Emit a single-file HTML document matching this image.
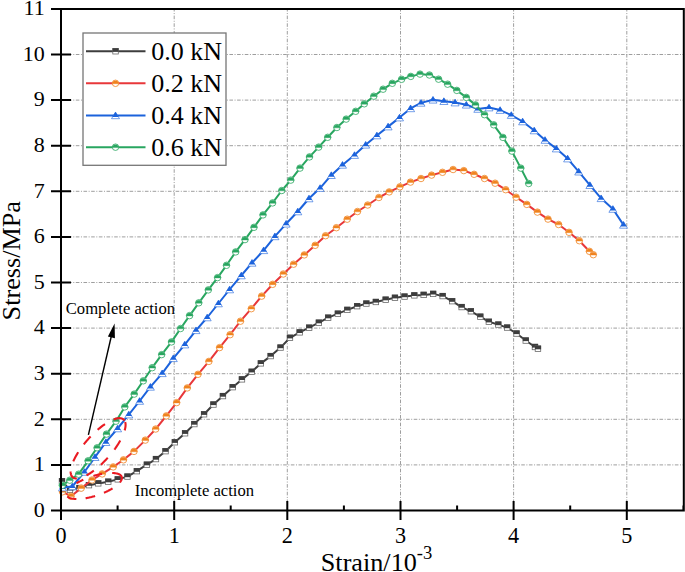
<!DOCTYPE html>
<html><head><meta charset="utf-8"><style>
html,body{margin:0;padding:0;background:#fff;}
body{width:685px;height:572px;overflow:hidden;}
svg{display:block;font-family:"Liberation Serif",serif;fill:#000;}
svg text{fill:#000;}
</style></head><body><svg width="685" height="572" viewBox="0 0 685 572"><rect width="685" height="572" fill="#fff"/><path d="M61.0,464.9 H683.8 M61.0,419.3 H683.8 M61.0,373.7 H683.8 M61.0,328.1 H683.8 M61.0,282.5 H683.8 M61.0,236.9 H683.8 M61.0,191.3 H683.8 M61.0,145.7 H683.8 M61.0,100.1 H683.8 M61.0,54.5 H683.8" stroke="#9e9e9e" stroke-width="1" stroke-dasharray="3.6 1.55 1 1.53" stroke-dashoffset="0.56" fill="none"/><path d="M174.2,8.9 V510.5 M287.3,8.9 V510.5 M400.5,8.9 V510.5 M513.6,8.9 V510.5 M626.8,8.9 V510.5" stroke="#9e9e9e" stroke-width="1" stroke-dasharray="3.6 1.55 1 1.53" stroke-dashoffset="0.98" fill="none"/><path d="M62.0,481.2 L70.0,489.9 L79.4,488.1 L88.9,485.2 L98.3,483.4 L108.2,481.7 L117.7,479.4 L127.4,476.6 L136.8,471.2 L146.8,464.7 L156.0,459.1 L165.5,451.2 L174.8,442.3 L185.1,433.3 L194.3,424.1 L204.1,414.3 L213.4,404.5 L222.9,396.1 L232.7,387.2 L241.9,379.4 L251.7,371.8 L260.9,363.4 L270.7,356.1 L280.5,347.6 L290.0,337.8 L299.6,332.4 L309.1,327.7 L318.9,322.7 L328.2,317.7 L337.9,313.7 L347.3,309.9 L357.1,306.2 L366.4,303.6 L375.8,302.0 L385.6,299.7 L395.0,297.8 L404.5,296.6 L414.3,295.4 L423.6,294.9 L433.2,293.9 L442.7,296.1 L452.2,301.2 L461.6,307.1 L470.9,311.3 L480.3,316.7 L488.9,321.8 L498.3,324.6 L507.1,327.6 L516.5,333.5 L525.8,340.5 L535.0,347.0 L538.0,348.7" fill="none" stroke="#3d3d3d" stroke-width="2" stroke-linejoin="round" stroke-linecap="round"/><rect x="59.2" y="478.4" width="5.5" height="5.5" fill="#fff" stroke="#6a6a6a" stroke-width="0.8"/><rect x="59.0" y="478.1" width="6.1" height="3.7" fill="#3d3d3d"/><rect x="67.2" y="487.1" width="5.5" height="5.5" fill="#fff" stroke="#6a6a6a" stroke-width="0.8"/><rect x="67.0" y="486.8" width="6.1" height="3.7" fill="#3d3d3d"/><rect x="76.7" y="485.3" width="5.5" height="5.5" fill="#fff" stroke="#6a6a6a" stroke-width="0.8"/><rect x="76.4" y="485.0" width="6.1" height="3.7" fill="#3d3d3d"/><rect x="86.2" y="482.4" width="5.5" height="5.5" fill="#fff" stroke="#6a6a6a" stroke-width="0.8"/><rect x="85.9" y="482.1" width="6.1" height="3.7" fill="#3d3d3d"/><rect x="95.5" y="480.6" width="5.5" height="5.5" fill="#fff" stroke="#6a6a6a" stroke-width="0.8"/><rect x="95.2" y="480.3" width="6.1" height="3.7" fill="#3d3d3d"/><rect x="105.5" y="478.9" width="5.5" height="5.5" fill="#fff" stroke="#6a6a6a" stroke-width="0.8"/><rect x="105.2" y="478.6" width="6.1" height="3.7" fill="#3d3d3d"/><rect x="115.0" y="476.6" width="5.5" height="5.5" fill="#fff" stroke="#6a6a6a" stroke-width="0.8"/><rect x="114.7" y="476.3" width="6.1" height="3.7" fill="#3d3d3d"/><rect x="124.7" y="473.8" width="5.5" height="5.5" fill="#fff" stroke="#6a6a6a" stroke-width="0.8"/><rect x="124.4" y="473.5" width="6.1" height="3.7" fill="#3d3d3d"/><rect x="134.1" y="468.4" width="5.5" height="5.5" fill="#fff" stroke="#6a6a6a" stroke-width="0.8"/><rect x="133.8" y="468.1" width="6.1" height="3.7" fill="#3d3d3d"/><rect x="144.1" y="461.9" width="5.5" height="5.5" fill="#fff" stroke="#6a6a6a" stroke-width="0.8"/><rect x="143.8" y="461.6" width="6.1" height="3.7" fill="#3d3d3d"/><rect x="153.2" y="456.3" width="5.5" height="5.5" fill="#fff" stroke="#6a6a6a" stroke-width="0.8"/><rect x="152.9" y="456.0" width="6.1" height="3.7" fill="#3d3d3d"/><rect x="162.8" y="448.4" width="5.5" height="5.5" fill="#fff" stroke="#6a6a6a" stroke-width="0.8"/><rect x="162.4" y="448.1" width="6.1" height="3.7" fill="#3d3d3d"/><rect x="172.1" y="439.5" width="5.5" height="5.5" fill="#fff" stroke="#6a6a6a" stroke-width="0.8"/><rect x="171.8" y="439.2" width="6.1" height="3.7" fill="#3d3d3d"/><rect x="182.3" y="430.5" width="5.5" height="5.5" fill="#fff" stroke="#6a6a6a" stroke-width="0.8"/><rect x="182.0" y="430.2" width="6.1" height="3.7" fill="#3d3d3d"/><rect x="191.6" y="421.3" width="5.5" height="5.5" fill="#fff" stroke="#6a6a6a" stroke-width="0.8"/><rect x="191.2" y="421.0" width="6.1" height="3.7" fill="#3d3d3d"/><rect x="201.3" y="411.5" width="5.5" height="5.5" fill="#fff" stroke="#6a6a6a" stroke-width="0.8"/><rect x="201.0" y="411.2" width="6.1" height="3.7" fill="#3d3d3d"/><rect x="210.7" y="401.8" width="5.5" height="5.5" fill="#fff" stroke="#6a6a6a" stroke-width="0.8"/><rect x="210.3" y="401.4" width="6.1" height="3.7" fill="#3d3d3d"/><rect x="220.2" y="393.3" width="5.5" height="5.5" fill="#fff" stroke="#6a6a6a" stroke-width="0.8"/><rect x="219.8" y="393.0" width="6.1" height="3.7" fill="#3d3d3d"/><rect x="229.9" y="384.4" width="5.5" height="5.5" fill="#fff" stroke="#6a6a6a" stroke-width="0.8"/><rect x="229.6" y="384.1" width="6.1" height="3.7" fill="#3d3d3d"/><rect x="239.2" y="376.6" width="5.5" height="5.5" fill="#fff" stroke="#6a6a6a" stroke-width="0.8"/><rect x="238.8" y="376.3" width="6.1" height="3.7" fill="#3d3d3d"/><rect x="248.9" y="369.0" width="5.5" height="5.5" fill="#fff" stroke="#6a6a6a" stroke-width="0.8"/><rect x="248.6" y="368.7" width="6.1" height="3.7" fill="#3d3d3d"/><rect x="258.1" y="360.6" width="5.5" height="5.5" fill="#fff" stroke="#6a6a6a" stroke-width="0.8"/><rect x="257.8" y="360.3" width="6.1" height="3.7" fill="#3d3d3d"/><rect x="267.9" y="353.3" width="5.5" height="5.5" fill="#fff" stroke="#6a6a6a" stroke-width="0.8"/><rect x="267.6" y="353.0" width="6.1" height="3.7" fill="#3d3d3d"/><rect x="277.8" y="344.8" width="5.5" height="5.5" fill="#fff" stroke="#6a6a6a" stroke-width="0.8"/><rect x="277.4" y="344.5" width="6.1" height="3.7" fill="#3d3d3d"/><rect x="287.2" y="335.0" width="5.5" height="5.5" fill="#fff" stroke="#6a6a6a" stroke-width="0.8"/><rect x="286.9" y="334.7" width="6.1" height="3.7" fill="#3d3d3d"/><rect x="296.9" y="329.6" width="5.5" height="5.5" fill="#fff" stroke="#6a6a6a" stroke-width="0.8"/><rect x="296.6" y="329.3" width="6.1" height="3.7" fill="#3d3d3d"/><rect x="306.4" y="324.9" width="5.5" height="5.5" fill="#fff" stroke="#6a6a6a" stroke-width="0.8"/><rect x="306.1" y="324.6" width="6.1" height="3.7" fill="#3d3d3d"/><rect x="316.1" y="319.9" width="5.5" height="5.5" fill="#fff" stroke="#6a6a6a" stroke-width="0.8"/><rect x="315.8" y="319.6" width="6.1" height="3.7" fill="#3d3d3d"/><rect x="325.4" y="314.9" width="5.5" height="5.5" fill="#fff" stroke="#6a6a6a" stroke-width="0.8"/><rect x="325.1" y="314.6" width="6.1" height="3.7" fill="#3d3d3d"/><rect x="335.1" y="310.9" width="5.5" height="5.5" fill="#fff" stroke="#6a6a6a" stroke-width="0.8"/><rect x="334.8" y="310.6" width="6.1" height="3.7" fill="#3d3d3d"/><rect x="344.6" y="307.1" width="5.5" height="5.5" fill="#fff" stroke="#6a6a6a" stroke-width="0.8"/><rect x="344.2" y="306.8" width="6.1" height="3.7" fill="#3d3d3d"/><rect x="354.4" y="303.4" width="5.5" height="5.5" fill="#fff" stroke="#6a6a6a" stroke-width="0.8"/><rect x="354.1" y="303.1" width="6.1" height="3.7" fill="#3d3d3d"/><rect x="363.6" y="300.8" width="5.5" height="5.5" fill="#fff" stroke="#6a6a6a" stroke-width="0.8"/><rect x="363.3" y="300.5" width="6.1" height="3.7" fill="#3d3d3d"/><rect x="373.1" y="299.2" width="5.5" height="5.5" fill="#fff" stroke="#6a6a6a" stroke-width="0.8"/><rect x="372.8" y="298.9" width="6.1" height="3.7" fill="#3d3d3d"/><rect x="382.9" y="296.9" width="5.5" height="5.5" fill="#fff" stroke="#6a6a6a" stroke-width="0.8"/><rect x="382.6" y="296.6" width="6.1" height="3.7" fill="#3d3d3d"/><rect x="392.2" y="295.0" width="5.5" height="5.5" fill="#fff" stroke="#6a6a6a" stroke-width="0.8"/><rect x="391.9" y="294.7" width="6.1" height="3.7" fill="#3d3d3d"/><rect x="401.8" y="293.8" width="5.5" height="5.5" fill="#fff" stroke="#6a6a6a" stroke-width="0.8"/><rect x="401.4" y="293.5" width="6.1" height="3.7" fill="#3d3d3d"/><rect x="411.6" y="292.6" width="5.5" height="5.5" fill="#fff" stroke="#6a6a6a" stroke-width="0.8"/><rect x="411.2" y="292.3" width="6.1" height="3.7" fill="#3d3d3d"/><rect x="420.9" y="292.1" width="5.5" height="5.5" fill="#fff" stroke="#6a6a6a" stroke-width="0.8"/><rect x="420.6" y="291.8" width="6.1" height="3.7" fill="#3d3d3d"/><rect x="430.4" y="291.1" width="5.5" height="5.5" fill="#fff" stroke="#6a6a6a" stroke-width="0.8"/><rect x="430.1" y="290.8" width="6.1" height="3.7" fill="#3d3d3d"/><rect x="439.9" y="293.3" width="5.5" height="5.5" fill="#fff" stroke="#6a6a6a" stroke-width="0.8"/><rect x="439.6" y="293.0" width="6.1" height="3.7" fill="#3d3d3d"/><rect x="449.4" y="298.4" width="5.5" height="5.5" fill="#fff" stroke="#6a6a6a" stroke-width="0.8"/><rect x="449.1" y="298.1" width="6.1" height="3.7" fill="#3d3d3d"/><rect x="458.9" y="304.3" width="5.5" height="5.5" fill="#fff" stroke="#6a6a6a" stroke-width="0.8"/><rect x="458.6" y="304.0" width="6.1" height="3.7" fill="#3d3d3d"/><rect x="468.1" y="308.5" width="5.5" height="5.5" fill="#fff" stroke="#6a6a6a" stroke-width="0.8"/><rect x="467.8" y="308.2" width="6.1" height="3.7" fill="#3d3d3d"/><rect x="477.6" y="313.9" width="5.5" height="5.5" fill="#fff" stroke="#6a6a6a" stroke-width="0.8"/><rect x="477.2" y="313.6" width="6.1" height="3.7" fill="#3d3d3d"/><rect x="486.1" y="319.0" width="5.5" height="5.5" fill="#fff" stroke="#6a6a6a" stroke-width="0.8"/><rect x="485.8" y="318.7" width="6.1" height="3.7" fill="#3d3d3d"/><rect x="495.6" y="321.8" width="5.5" height="5.5" fill="#fff" stroke="#6a6a6a" stroke-width="0.8"/><rect x="495.2" y="321.5" width="6.1" height="3.7" fill="#3d3d3d"/><rect x="504.4" y="324.8" width="5.5" height="5.5" fill="#fff" stroke="#6a6a6a" stroke-width="0.8"/><rect x="504.1" y="324.5" width="6.1" height="3.7" fill="#3d3d3d"/><rect x="513.8" y="330.8" width="5.5" height="5.5" fill="#fff" stroke="#6a6a6a" stroke-width="0.8"/><rect x="513.5" y="330.4" width="6.1" height="3.7" fill="#3d3d3d"/><rect x="523.0" y="337.8" width="5.5" height="5.5" fill="#fff" stroke="#6a6a6a" stroke-width="0.8"/><rect x="522.8" y="337.4" width="6.1" height="3.7" fill="#3d3d3d"/><rect x="532.2" y="344.2" width="5.5" height="5.5" fill="#fff" stroke="#6a6a6a" stroke-width="0.8"/><rect x="532.0" y="343.9" width="6.1" height="3.7" fill="#3d3d3d"/><rect x="535.2" y="345.9" width="5.5" height="5.5" fill="#fff" stroke="#6a6a6a" stroke-width="0.8"/><rect x="535.0" y="345.6" width="6.1" height="3.7" fill="#3d3d3d"/><path d="M62.5,491.8 L71.0,496.2 L81.2,488.1 L92.0,480.0 L102.2,473.9 L113.2,466.9 L123.5,459.8 L134.0,451.4 L145.3,440.1 L155.7,429.0 L166.3,415.9 L176.7,402.6 L187.3,387.9 L198.0,374.3 L208.9,361.4 L219.6,347.6 L230.1,334.7 L240.5,321.2 L251.3,308.7 L261.7,296.1 L272.7,284.3 L283.3,274.0 L293.6,264.2 L304.3,254.9 L315.2,245.3 L325.6,235.7 L336.4,227.7 L347.2,219.2 L357.5,211.5 L367.7,205.0 L378.9,197.5 L389.2,191.9 L399.9,186.8 L410.5,182.1 L421.0,178.5 L431.6,175.1 L442.5,172.3 L453.1,169.5 L463.8,170.6 L474.1,174.3 L484.5,178.5 L495.1,183.2 L505.7,189.7 L516.1,197.2 L526.8,204.4 L537.4,212.1 L548.0,219.1 L558.6,224.5 L569.0,232.3 L579.3,240.7 L589.4,251.3 L593.3,254.7" fill="none" stroke="#e8373a" stroke-width="2" stroke-linejoin="round" stroke-linecap="round"/><circle cx="62.5" cy="491.8" r="3.25" fill="#fff" stroke="#f0831f" stroke-width="0.8"/><path d="M59.27,492.15 A3.25,3.25 0 0 1 65.73,492.15 Z" fill="#f0831f" stroke="#f0831f" stroke-width="0.4"/><circle cx="71.0" cy="496.2" r="3.25" fill="#fff" stroke="#f0831f" stroke-width="0.8"/><path d="M67.77,496.55 A3.25,3.25 0 0 1 74.23,496.55 Z" fill="#f0831f" stroke="#f0831f" stroke-width="0.4"/><circle cx="81.2" cy="488.1" r="3.25" fill="#fff" stroke="#f0831f" stroke-width="0.8"/><path d="M77.97,488.45 A3.25,3.25 0 0 1 84.43,488.45 Z" fill="#f0831f" stroke="#f0831f" stroke-width="0.4"/><circle cx="92.0" cy="480.0" r="3.25" fill="#fff" stroke="#f0831f" stroke-width="0.8"/><path d="M88.77,480.35 A3.25,3.25 0 0 1 95.23,480.35 Z" fill="#f0831f" stroke="#f0831f" stroke-width="0.4"/><circle cx="102.2" cy="473.9" r="3.25" fill="#fff" stroke="#f0831f" stroke-width="0.8"/><path d="M98.97,474.25 A3.25,3.25 0 0 1 105.43,474.25 Z" fill="#f0831f" stroke="#f0831f" stroke-width="0.4"/><circle cx="113.2" cy="466.9" r="3.25" fill="#fff" stroke="#f0831f" stroke-width="0.8"/><path d="M109.97,467.25 A3.25,3.25 0 0 1 116.43,467.25 Z" fill="#f0831f" stroke="#f0831f" stroke-width="0.4"/><circle cx="123.5" cy="459.8" r="3.25" fill="#fff" stroke="#f0831f" stroke-width="0.8"/><path d="M120.27,460.15 A3.25,3.25 0 0 1 126.73,460.15 Z" fill="#f0831f" stroke="#f0831f" stroke-width="0.4"/><circle cx="134.0" cy="451.4" r="3.25" fill="#fff" stroke="#f0831f" stroke-width="0.8"/><path d="M130.77,451.75 A3.25,3.25 0 0 1 137.23,451.75 Z" fill="#f0831f" stroke="#f0831f" stroke-width="0.4"/><circle cx="145.3" cy="440.1" r="3.25" fill="#fff" stroke="#f0831f" stroke-width="0.8"/><path d="M142.07,440.45 A3.25,3.25 0 0 1 148.53,440.45 Z" fill="#f0831f" stroke="#f0831f" stroke-width="0.4"/><circle cx="155.7" cy="429.0" r="3.25" fill="#fff" stroke="#f0831f" stroke-width="0.8"/><path d="M152.47,429.35 A3.25,3.25 0 0 1 158.93,429.35 Z" fill="#f0831f" stroke="#f0831f" stroke-width="0.4"/><circle cx="166.3" cy="415.9" r="3.25" fill="#fff" stroke="#f0831f" stroke-width="0.8"/><path d="M163.07,416.25 A3.25,3.25 0 0 1 169.53,416.25 Z" fill="#f0831f" stroke="#f0831f" stroke-width="0.4"/><circle cx="176.7" cy="402.6" r="3.25" fill="#fff" stroke="#f0831f" stroke-width="0.8"/><path d="M173.47,402.95 A3.25,3.25 0 0 1 179.93,402.95 Z" fill="#f0831f" stroke="#f0831f" stroke-width="0.4"/><circle cx="187.3" cy="387.9" r="3.25" fill="#fff" stroke="#f0831f" stroke-width="0.8"/><path d="M184.07,388.25 A3.25,3.25 0 0 1 190.53,388.25 Z" fill="#f0831f" stroke="#f0831f" stroke-width="0.4"/><circle cx="198.0" cy="374.3" r="3.25" fill="#fff" stroke="#f0831f" stroke-width="0.8"/><path d="M194.77,374.65 A3.25,3.25 0 0 1 201.23,374.65 Z" fill="#f0831f" stroke="#f0831f" stroke-width="0.4"/><circle cx="208.9" cy="361.4" r="3.25" fill="#fff" stroke="#f0831f" stroke-width="0.8"/><path d="M205.67,361.75 A3.25,3.25 0 0 1 212.13,361.75 Z" fill="#f0831f" stroke="#f0831f" stroke-width="0.4"/><circle cx="219.6" cy="347.6" r="3.25" fill="#fff" stroke="#f0831f" stroke-width="0.8"/><path d="M216.37,347.95 A3.25,3.25 0 0 1 222.83,347.95 Z" fill="#f0831f" stroke="#f0831f" stroke-width="0.4"/><circle cx="230.1" cy="334.7" r="3.25" fill="#fff" stroke="#f0831f" stroke-width="0.8"/><path d="M226.87,335.05 A3.25,3.25 0 0 1 233.33,335.05 Z" fill="#f0831f" stroke="#f0831f" stroke-width="0.4"/><circle cx="240.5" cy="321.2" r="3.25" fill="#fff" stroke="#f0831f" stroke-width="0.8"/><path d="M237.27,321.55 A3.25,3.25 0 0 1 243.73,321.55 Z" fill="#f0831f" stroke="#f0831f" stroke-width="0.4"/><circle cx="251.3" cy="308.7" r="3.25" fill="#fff" stroke="#f0831f" stroke-width="0.8"/><path d="M248.07,309.05 A3.25,3.25 0 0 1 254.53,309.05 Z" fill="#f0831f" stroke="#f0831f" stroke-width="0.4"/><circle cx="261.7" cy="296.1" r="3.25" fill="#fff" stroke="#f0831f" stroke-width="0.8"/><path d="M258.47,296.45 A3.25,3.25 0 0 1 264.93,296.45 Z" fill="#f0831f" stroke="#f0831f" stroke-width="0.4"/><circle cx="272.7" cy="284.3" r="3.25" fill="#fff" stroke="#f0831f" stroke-width="0.8"/><path d="M269.47,284.65 A3.25,3.25 0 0 1 275.93,284.65 Z" fill="#f0831f" stroke="#f0831f" stroke-width="0.4"/><circle cx="283.3" cy="274.0" r="3.25" fill="#fff" stroke="#f0831f" stroke-width="0.8"/><path d="M280.07,274.35 A3.25,3.25 0 0 1 286.53,274.35 Z" fill="#f0831f" stroke="#f0831f" stroke-width="0.4"/><circle cx="293.6" cy="264.2" r="3.25" fill="#fff" stroke="#f0831f" stroke-width="0.8"/><path d="M290.37,264.55 A3.25,3.25 0 0 1 296.83,264.55 Z" fill="#f0831f" stroke="#f0831f" stroke-width="0.4"/><circle cx="304.3" cy="254.9" r="3.25" fill="#fff" stroke="#f0831f" stroke-width="0.8"/><path d="M301.07,255.25 A3.25,3.25 0 0 1 307.53,255.25 Z" fill="#f0831f" stroke="#f0831f" stroke-width="0.4"/><circle cx="315.2" cy="245.3" r="3.25" fill="#fff" stroke="#f0831f" stroke-width="0.8"/><path d="M311.97,245.65 A3.25,3.25 0 0 1 318.43,245.65 Z" fill="#f0831f" stroke="#f0831f" stroke-width="0.4"/><circle cx="325.6" cy="235.7" r="3.25" fill="#fff" stroke="#f0831f" stroke-width="0.8"/><path d="M322.37,236.05 A3.25,3.25 0 0 1 328.83,236.05 Z" fill="#f0831f" stroke="#f0831f" stroke-width="0.4"/><circle cx="336.4" cy="227.7" r="3.25" fill="#fff" stroke="#f0831f" stroke-width="0.8"/><path d="M333.17,228.05 A3.25,3.25 0 0 1 339.63,228.05 Z" fill="#f0831f" stroke="#f0831f" stroke-width="0.4"/><circle cx="347.2" cy="219.2" r="3.25" fill="#fff" stroke="#f0831f" stroke-width="0.8"/><path d="M343.97,219.55 A3.25,3.25 0 0 1 350.43,219.55 Z" fill="#f0831f" stroke="#f0831f" stroke-width="0.4"/><circle cx="357.5" cy="211.5" r="3.25" fill="#fff" stroke="#f0831f" stroke-width="0.8"/><path d="M354.27,211.85 A3.25,3.25 0 0 1 360.73,211.85 Z" fill="#f0831f" stroke="#f0831f" stroke-width="0.4"/><circle cx="367.7" cy="205.0" r="3.25" fill="#fff" stroke="#f0831f" stroke-width="0.8"/><path d="M364.47,205.35 A3.25,3.25 0 0 1 370.93,205.35 Z" fill="#f0831f" stroke="#f0831f" stroke-width="0.4"/><circle cx="378.9" cy="197.5" r="3.25" fill="#fff" stroke="#f0831f" stroke-width="0.8"/><path d="M375.67,197.85 A3.25,3.25 0 0 1 382.13,197.85 Z" fill="#f0831f" stroke="#f0831f" stroke-width="0.4"/><circle cx="389.2" cy="191.9" r="3.25" fill="#fff" stroke="#f0831f" stroke-width="0.8"/><path d="M385.97,192.25 A3.25,3.25 0 0 1 392.43,192.25 Z" fill="#f0831f" stroke="#f0831f" stroke-width="0.4"/><circle cx="399.9" cy="186.8" r="3.25" fill="#fff" stroke="#f0831f" stroke-width="0.8"/><path d="M396.67,187.15 A3.25,3.25 0 0 1 403.13,187.15 Z" fill="#f0831f" stroke="#f0831f" stroke-width="0.4"/><circle cx="410.5" cy="182.1" r="3.25" fill="#fff" stroke="#f0831f" stroke-width="0.8"/><path d="M407.27,182.45 A3.25,3.25 0 0 1 413.73,182.45 Z" fill="#f0831f" stroke="#f0831f" stroke-width="0.4"/><circle cx="421.0" cy="178.5" r="3.25" fill="#fff" stroke="#f0831f" stroke-width="0.8"/><path d="M417.77,178.85 A3.25,3.25 0 0 1 424.23,178.85 Z" fill="#f0831f" stroke="#f0831f" stroke-width="0.4"/><circle cx="431.6" cy="175.1" r="3.25" fill="#fff" stroke="#f0831f" stroke-width="0.8"/><path d="M428.37,175.45 A3.25,3.25 0 0 1 434.83,175.45 Z" fill="#f0831f" stroke="#f0831f" stroke-width="0.4"/><circle cx="442.5" cy="172.3" r="3.25" fill="#fff" stroke="#f0831f" stroke-width="0.8"/><path d="M439.27,172.65 A3.25,3.25 0 0 1 445.73,172.65 Z" fill="#f0831f" stroke="#f0831f" stroke-width="0.4"/><circle cx="453.1" cy="169.5" r="3.25" fill="#fff" stroke="#f0831f" stroke-width="0.8"/><path d="M449.87,169.85 A3.25,3.25 0 0 1 456.33,169.85 Z" fill="#f0831f" stroke="#f0831f" stroke-width="0.4"/><circle cx="463.8" cy="170.6" r="3.25" fill="#fff" stroke="#f0831f" stroke-width="0.8"/><path d="M460.57,170.95 A3.25,3.25 0 0 1 467.03,170.95 Z" fill="#f0831f" stroke="#f0831f" stroke-width="0.4"/><circle cx="474.1" cy="174.3" r="3.25" fill="#fff" stroke="#f0831f" stroke-width="0.8"/><path d="M470.87,174.65 A3.25,3.25 0 0 1 477.33,174.65 Z" fill="#f0831f" stroke="#f0831f" stroke-width="0.4"/><circle cx="484.5" cy="178.5" r="3.25" fill="#fff" stroke="#f0831f" stroke-width="0.8"/><path d="M481.27,178.85 A3.25,3.25 0 0 1 487.73,178.85 Z" fill="#f0831f" stroke="#f0831f" stroke-width="0.4"/><circle cx="495.1" cy="183.2" r="3.25" fill="#fff" stroke="#f0831f" stroke-width="0.8"/><path d="M491.87,183.55 A3.25,3.25 0 0 1 498.33,183.55 Z" fill="#f0831f" stroke="#f0831f" stroke-width="0.4"/><circle cx="505.7" cy="189.7" r="3.25" fill="#fff" stroke="#f0831f" stroke-width="0.8"/><path d="M502.47,190.05 A3.25,3.25 0 0 1 508.93,190.05 Z" fill="#f0831f" stroke="#f0831f" stroke-width="0.4"/><circle cx="516.1" cy="197.2" r="3.25" fill="#fff" stroke="#f0831f" stroke-width="0.8"/><path d="M512.87,197.55 A3.25,3.25 0 0 1 519.33,197.55 Z" fill="#f0831f" stroke="#f0831f" stroke-width="0.4"/><circle cx="526.8" cy="204.4" r="3.25" fill="#fff" stroke="#f0831f" stroke-width="0.8"/><path d="M523.57,204.75 A3.25,3.25 0 0 1 530.03,204.75 Z" fill="#f0831f" stroke="#f0831f" stroke-width="0.4"/><circle cx="537.4" cy="212.1" r="3.25" fill="#fff" stroke="#f0831f" stroke-width="0.8"/><path d="M534.17,212.45 A3.25,3.25 0 0 1 540.63,212.45 Z" fill="#f0831f" stroke="#f0831f" stroke-width="0.4"/><circle cx="548.0" cy="219.1" r="3.25" fill="#fff" stroke="#f0831f" stroke-width="0.8"/><path d="M544.77,219.45 A3.25,3.25 0 0 1 551.23,219.45 Z" fill="#f0831f" stroke="#f0831f" stroke-width="0.4"/><circle cx="558.6" cy="224.5" r="3.25" fill="#fff" stroke="#f0831f" stroke-width="0.8"/><path d="M555.37,224.85 A3.25,3.25 0 0 1 561.83,224.85 Z" fill="#f0831f" stroke="#f0831f" stroke-width="0.4"/><circle cx="569.0" cy="232.3" r="3.25" fill="#fff" stroke="#f0831f" stroke-width="0.8"/><path d="M565.77,232.65 A3.25,3.25 0 0 1 572.23,232.65 Z" fill="#f0831f" stroke="#f0831f" stroke-width="0.4"/><circle cx="579.3" cy="240.7" r="3.25" fill="#fff" stroke="#f0831f" stroke-width="0.8"/><path d="M576.07,241.05 A3.25,3.25 0 0 1 582.53,241.05 Z" fill="#f0831f" stroke="#f0831f" stroke-width="0.4"/><circle cx="589.4" cy="251.3" r="3.25" fill="#fff" stroke="#f0831f" stroke-width="0.8"/><path d="M586.17,251.65 A3.25,3.25 0 0 1 592.63,251.65 Z" fill="#f0831f" stroke="#f0831f" stroke-width="0.4"/><circle cx="593.3" cy="254.7" r="3.25" fill="#fff" stroke="#f0831f" stroke-width="0.8"/><path d="M590.07,255.05 A3.25,3.25 0 0 1 596.53,255.05 Z" fill="#f0831f" stroke="#f0831f" stroke-width="0.4"/><path d="M62.5,487.6 L72.3,486.5 L84.4,472.0 L95.0,457.2 L105.9,442.2 L117.6,428.5 L128.8,414.6 L139.6,401.0 L150.4,386.9 L162.2,373.3 L173.3,358.3 L184.8,344.6 L196.0,330.3 L207.2,317.5 L218.4,303.5 L229.6,289.5 L241.3,275.5 L252.0,262.9 L263.7,250.3 L274.9,236.4 L286.1,223.8 L297.8,211.5 L309.0,198.5 L320.1,188.1 L331.3,175.2 L342.5,164.9 L354.5,155.1 L365.7,144.8 L376.9,135.5 L388.1,126.6 L399.5,117.6 L410.6,108.4 L421.0,102.9 L433.0,99.8 L443.9,101.2 L455.1,102.6 L466.3,104.8 L477.8,109.0 L489.0,107.6 L500.1,110.1 L511.3,115.1 L522.6,121.5 L534.2,130.5 L545.0,140.0 L556.3,148.6 L567.6,158.6 L578.7,171.7 L589.9,185.2 L601.1,198.3 L612.9,209.0 L623.5,224.9" fill="none" stroke="#1b62dc" stroke-width="2" stroke-linejoin="round" stroke-linecap="round"/><path d="M62.5,484.3 L66.5,490.9 L58.5,490.9 Z" fill="#fff" stroke="#1b62dc" stroke-opacity="0.75" stroke-width="0.8" stroke-linejoin="miter"/><path d="M62.5,484.0 L65.7,489.1 L59.3,489.1 Z" fill="#1b62dc"/><path d="M72.3,483.2 L76.3,489.8 L68.3,489.8 Z" fill="#fff" stroke="#1b62dc" stroke-opacity="0.75" stroke-width="0.8" stroke-linejoin="miter"/><path d="M72.3,482.9 L75.5,488.0 L69.1,488.0 Z" fill="#1b62dc"/><path d="M84.4,468.7 L88.4,475.3 L80.4,475.3 Z" fill="#fff" stroke="#1b62dc" stroke-opacity="0.75" stroke-width="0.8" stroke-linejoin="miter"/><path d="M84.4,468.4 L87.6,473.5 L81.2,473.5 Z" fill="#1b62dc"/><path d="M95.0,453.9 L99.0,460.5 L91.0,460.5 Z" fill="#fff" stroke="#1b62dc" stroke-opacity="0.75" stroke-width="0.8" stroke-linejoin="miter"/><path d="M95.0,453.6 L98.2,458.7 L91.8,458.7 Z" fill="#1b62dc"/><path d="M105.9,438.9 L109.9,445.5 L101.9,445.5 Z" fill="#fff" stroke="#1b62dc" stroke-opacity="0.75" stroke-width="0.8" stroke-linejoin="miter"/><path d="M105.9,438.6 L109.1,443.7 L102.7,443.7 Z" fill="#1b62dc"/><path d="M117.6,425.2 L121.6,431.8 L113.6,431.8 Z" fill="#fff" stroke="#1b62dc" stroke-opacity="0.75" stroke-width="0.8" stroke-linejoin="miter"/><path d="M117.6,424.9 L120.8,430.0 L114.4,430.0 Z" fill="#1b62dc"/><path d="M128.8,411.3 L132.8,417.9 L124.8,417.9 Z" fill="#fff" stroke="#1b62dc" stroke-opacity="0.75" stroke-width="0.8" stroke-linejoin="miter"/><path d="M128.8,411.0 L132.0,416.1 L125.6,416.1 Z" fill="#1b62dc"/><path d="M139.6,397.7 L143.6,404.3 L135.6,404.3 Z" fill="#fff" stroke="#1b62dc" stroke-opacity="0.75" stroke-width="0.8" stroke-linejoin="miter"/><path d="M139.6,397.4 L142.8,402.5 L136.4,402.5 Z" fill="#1b62dc"/><path d="M150.4,383.6 L154.4,390.2 L146.4,390.2 Z" fill="#fff" stroke="#1b62dc" stroke-opacity="0.75" stroke-width="0.8" stroke-linejoin="miter"/><path d="M150.4,383.3 L153.6,388.4 L147.2,388.4 Z" fill="#1b62dc"/><path d="M162.2,370.0 L166.2,376.6 L158.2,376.6 Z" fill="#fff" stroke="#1b62dc" stroke-opacity="0.75" stroke-width="0.8" stroke-linejoin="miter"/><path d="M162.2,369.7 L165.4,374.8 L159.0,374.8 Z" fill="#1b62dc"/><path d="M173.3,355.0 L177.3,361.6 L169.3,361.6 Z" fill="#fff" stroke="#1b62dc" stroke-opacity="0.75" stroke-width="0.8" stroke-linejoin="miter"/><path d="M173.3,354.7 L176.5,359.8 L170.1,359.8 Z" fill="#1b62dc"/><path d="M184.8,341.3 L188.8,347.9 L180.8,347.9 Z" fill="#fff" stroke="#1b62dc" stroke-opacity="0.75" stroke-width="0.8" stroke-linejoin="miter"/><path d="M184.8,341.0 L188.0,346.1 L181.6,346.1 Z" fill="#1b62dc"/><path d="M196.0,327.0 L200.0,333.6 L192.0,333.6 Z" fill="#fff" stroke="#1b62dc" stroke-opacity="0.75" stroke-width="0.8" stroke-linejoin="miter"/><path d="M196.0,326.7 L199.2,331.8 L192.8,331.8 Z" fill="#1b62dc"/><path d="M207.2,314.2 L211.2,320.8 L203.2,320.8 Z" fill="#fff" stroke="#1b62dc" stroke-opacity="0.75" stroke-width="0.8" stroke-linejoin="miter"/><path d="M207.2,313.9 L210.4,319.0 L204.0,319.0 Z" fill="#1b62dc"/><path d="M218.4,300.2 L222.4,306.8 L214.4,306.8 Z" fill="#fff" stroke="#1b62dc" stroke-opacity="0.75" stroke-width="0.8" stroke-linejoin="miter"/><path d="M218.4,299.9 L221.6,305.0 L215.2,305.0 Z" fill="#1b62dc"/><path d="M229.6,286.2 L233.6,292.8 L225.6,292.8 Z" fill="#fff" stroke="#1b62dc" stroke-opacity="0.75" stroke-width="0.8" stroke-linejoin="miter"/><path d="M229.6,285.9 L232.8,291.0 L226.4,291.0 Z" fill="#1b62dc"/><path d="M241.3,272.2 L245.3,278.8 L237.3,278.8 Z" fill="#fff" stroke="#1b62dc" stroke-opacity="0.75" stroke-width="0.8" stroke-linejoin="miter"/><path d="M241.3,271.9 L244.5,277.0 L238.1,277.0 Z" fill="#1b62dc"/><path d="M252.0,259.6 L256.0,266.2 L248.0,266.2 Z" fill="#fff" stroke="#1b62dc" stroke-opacity="0.75" stroke-width="0.8" stroke-linejoin="miter"/><path d="M252.0,259.3 L255.2,264.4 L248.8,264.4 Z" fill="#1b62dc"/><path d="M263.7,247.0 L267.7,253.6 L259.7,253.6 Z" fill="#fff" stroke="#1b62dc" stroke-opacity="0.75" stroke-width="0.8" stroke-linejoin="miter"/><path d="M263.7,246.7 L266.9,251.8 L260.5,251.8 Z" fill="#1b62dc"/><path d="M274.9,233.1 L278.9,239.7 L270.9,239.7 Z" fill="#fff" stroke="#1b62dc" stroke-opacity="0.75" stroke-width="0.8" stroke-linejoin="miter"/><path d="M274.9,232.8 L278.1,237.9 L271.7,237.9 Z" fill="#1b62dc"/><path d="M286.1,220.5 L290.1,227.1 L282.1,227.1 Z" fill="#fff" stroke="#1b62dc" stroke-opacity="0.75" stroke-width="0.8" stroke-linejoin="miter"/><path d="M286.1,220.2 L289.3,225.3 L282.9,225.3 Z" fill="#1b62dc"/><path d="M297.8,208.2 L301.8,214.8 L293.8,214.8 Z" fill="#fff" stroke="#1b62dc" stroke-opacity="0.75" stroke-width="0.8" stroke-linejoin="miter"/><path d="M297.8,207.9 L301.0,213.0 L294.6,213.0 Z" fill="#1b62dc"/><path d="M309.0,195.2 L313.0,201.8 L305.0,201.8 Z" fill="#fff" stroke="#1b62dc" stroke-opacity="0.75" stroke-width="0.8" stroke-linejoin="miter"/><path d="M309.0,194.9 L312.2,200.0 L305.8,200.0 Z" fill="#1b62dc"/><path d="M320.1,184.8 L324.1,191.4 L316.1,191.4 Z" fill="#fff" stroke="#1b62dc" stroke-opacity="0.75" stroke-width="0.8" stroke-linejoin="miter"/><path d="M320.1,184.5 L323.3,189.6 L316.9,189.6 Z" fill="#1b62dc"/><path d="M331.3,171.9 L335.3,178.5 L327.3,178.5 Z" fill="#fff" stroke="#1b62dc" stroke-opacity="0.75" stroke-width="0.8" stroke-linejoin="miter"/><path d="M331.3,171.6 L334.5,176.7 L328.1,176.7 Z" fill="#1b62dc"/><path d="M342.5,161.6 L346.5,168.2 L338.5,168.2 Z" fill="#fff" stroke="#1b62dc" stroke-opacity="0.75" stroke-width="0.8" stroke-linejoin="miter"/><path d="M342.5,161.3 L345.7,166.4 L339.3,166.4 Z" fill="#1b62dc"/><path d="M354.5,151.8 L358.5,158.4 L350.5,158.4 Z" fill="#fff" stroke="#1b62dc" stroke-opacity="0.75" stroke-width="0.8" stroke-linejoin="miter"/><path d="M354.5,151.5 L357.7,156.6 L351.3,156.6 Z" fill="#1b62dc"/><path d="M365.7,141.5 L369.7,148.1 L361.7,148.1 Z" fill="#fff" stroke="#1b62dc" stroke-opacity="0.75" stroke-width="0.8" stroke-linejoin="miter"/><path d="M365.7,141.2 L368.9,146.3 L362.5,146.3 Z" fill="#1b62dc"/><path d="M376.9,132.2 L380.9,138.8 L372.9,138.8 Z" fill="#fff" stroke="#1b62dc" stroke-opacity="0.75" stroke-width="0.8" stroke-linejoin="miter"/><path d="M376.9,131.9 L380.1,137.0 L373.7,137.0 Z" fill="#1b62dc"/><path d="M388.1,123.3 L392.1,129.9 L384.1,129.9 Z" fill="#fff" stroke="#1b62dc" stroke-opacity="0.75" stroke-width="0.8" stroke-linejoin="miter"/><path d="M388.1,123.0 L391.3,128.1 L384.9,128.1 Z" fill="#1b62dc"/><path d="M399.5,114.3 L403.5,120.9 L395.5,120.9 Z" fill="#fff" stroke="#1b62dc" stroke-opacity="0.75" stroke-width="0.8" stroke-linejoin="miter"/><path d="M399.5,114.0 L402.7,119.1 L396.3,119.1 Z" fill="#1b62dc"/><path d="M410.6,105.1 L414.6,111.7 L406.6,111.7 Z" fill="#fff" stroke="#1b62dc" stroke-opacity="0.75" stroke-width="0.8" stroke-linejoin="miter"/><path d="M410.6,104.8 L413.8,109.9 L407.4,109.9 Z" fill="#1b62dc"/><path d="M421.0,99.6 L425.0,106.2 L417.0,106.2 Z" fill="#fff" stroke="#1b62dc" stroke-opacity="0.75" stroke-width="0.8" stroke-linejoin="miter"/><path d="M421.0,99.3 L424.2,104.4 L417.8,104.4 Z" fill="#1b62dc"/><path d="M433.0,96.5 L437.0,103.1 L429.0,103.1 Z" fill="#fff" stroke="#1b62dc" stroke-opacity="0.75" stroke-width="0.8" stroke-linejoin="miter"/><path d="M433.0,96.2 L436.2,101.3 L429.8,101.3 Z" fill="#1b62dc"/><path d="M443.9,97.9 L447.9,104.5 L439.9,104.5 Z" fill="#fff" stroke="#1b62dc" stroke-opacity="0.75" stroke-width="0.8" stroke-linejoin="miter"/><path d="M443.9,97.6 L447.1,102.7 L440.7,102.7 Z" fill="#1b62dc"/><path d="M455.1,99.3 L459.1,105.9 L451.1,105.9 Z" fill="#fff" stroke="#1b62dc" stroke-opacity="0.75" stroke-width="0.8" stroke-linejoin="miter"/><path d="M455.1,99.0 L458.3,104.1 L451.9,104.1 Z" fill="#1b62dc"/><path d="M466.3,101.5 L470.3,108.1 L462.3,108.1 Z" fill="#fff" stroke="#1b62dc" stroke-opacity="0.75" stroke-width="0.8" stroke-linejoin="miter"/><path d="M466.3,101.2 L469.5,106.3 L463.1,106.3 Z" fill="#1b62dc"/><path d="M477.8,105.7 L481.8,112.3 L473.8,112.3 Z" fill="#fff" stroke="#1b62dc" stroke-opacity="0.75" stroke-width="0.8" stroke-linejoin="miter"/><path d="M477.8,105.4 L481.0,110.5 L474.6,110.5 Z" fill="#1b62dc"/><path d="M489.0,104.3 L493.0,110.9 L485.0,110.9 Z" fill="#fff" stroke="#1b62dc" stroke-opacity="0.75" stroke-width="0.8" stroke-linejoin="miter"/><path d="M489.0,104.0 L492.2,109.1 L485.8,109.1 Z" fill="#1b62dc"/><path d="M500.1,106.8 L504.1,113.4 L496.1,113.4 Z" fill="#fff" stroke="#1b62dc" stroke-opacity="0.75" stroke-width="0.8" stroke-linejoin="miter"/><path d="M500.1,106.5 L503.3,111.6 L496.9,111.6 Z" fill="#1b62dc"/><path d="M511.3,111.8 L515.3,118.4 L507.3,118.4 Z" fill="#fff" stroke="#1b62dc" stroke-opacity="0.75" stroke-width="0.8" stroke-linejoin="miter"/><path d="M511.3,111.5 L514.5,116.6 L508.1,116.6 Z" fill="#1b62dc"/><path d="M522.6,118.2 L526.6,124.8 L518.6,124.8 Z" fill="#fff" stroke="#1b62dc" stroke-opacity="0.75" stroke-width="0.8" stroke-linejoin="miter"/><path d="M522.6,117.9 L525.8,123.0 L519.4,123.0 Z" fill="#1b62dc"/><path d="M534.2,127.2 L538.2,133.8 L530.2,133.8 Z" fill="#fff" stroke="#1b62dc" stroke-opacity="0.75" stroke-width="0.8" stroke-linejoin="miter"/><path d="M534.2,126.9 L537.4,132.0 L531.0,132.0 Z" fill="#1b62dc"/><path d="M545.0,136.7 L549.0,143.3 L541.0,143.3 Z" fill="#fff" stroke="#1b62dc" stroke-opacity="0.75" stroke-width="0.8" stroke-linejoin="miter"/><path d="M545.0,136.4 L548.2,141.5 L541.8,141.5 Z" fill="#1b62dc"/><path d="M556.3,145.3 L560.3,151.9 L552.3,151.9 Z" fill="#fff" stroke="#1b62dc" stroke-opacity="0.75" stroke-width="0.8" stroke-linejoin="miter"/><path d="M556.3,145.0 L559.5,150.1 L553.1,150.1 Z" fill="#1b62dc"/><path d="M567.6,155.3 L571.6,161.9 L563.6,161.9 Z" fill="#fff" stroke="#1b62dc" stroke-opacity="0.75" stroke-width="0.8" stroke-linejoin="miter"/><path d="M567.6,155.0 L570.8,160.1 L564.4,160.1 Z" fill="#1b62dc"/><path d="M578.7,168.4 L582.7,175.0 L574.7,175.0 Z" fill="#fff" stroke="#1b62dc" stroke-opacity="0.75" stroke-width="0.8" stroke-linejoin="miter"/><path d="M578.7,168.1 L581.9,173.2 L575.5,173.2 Z" fill="#1b62dc"/><path d="M589.9,181.9 L593.9,188.5 L585.9,188.5 Z" fill="#fff" stroke="#1b62dc" stroke-opacity="0.75" stroke-width="0.8" stroke-linejoin="miter"/><path d="M589.9,181.6 L593.1,186.7 L586.7,186.7 Z" fill="#1b62dc"/><path d="M601.1,195.0 L605.1,201.6 L597.1,201.6 Z" fill="#fff" stroke="#1b62dc" stroke-opacity="0.75" stroke-width="0.8" stroke-linejoin="miter"/><path d="M601.1,194.7 L604.3,199.8 L597.9,199.8 Z" fill="#1b62dc"/><path d="M612.9,205.7 L616.9,212.3 L608.9,212.3 Z" fill="#fff" stroke="#1b62dc" stroke-opacity="0.75" stroke-width="0.8" stroke-linejoin="miter"/><path d="M612.9,205.4 L616.1,210.5 L609.7,210.5 Z" fill="#1b62dc"/><path d="M623.5,221.6 L627.5,228.2 L619.5,228.2 Z" fill="#fff" stroke="#1b62dc" stroke-opacity="0.75" stroke-width="0.8" stroke-linejoin="miter"/><path d="M623.5,221.3 L626.7,226.4 L620.3,226.4 Z" fill="#1b62dc"/><path d="M62.3,485.3 L69.8,480.2 L78.6,474.2 L88.1,460.8 L97.1,447.8 L106.5,434.1 L116.0,421.2 L124.8,406.9 L134.2,394.1 L143.3,380.8 L152.2,367.7 L161.7,354.6 L171.5,341.9 L180.6,328.5 L189.6,315.6 L198.8,302.8 L208.3,289.9 L217.6,277.6 L226.5,265.3 L235.7,251.9 L245.0,239.6 L254.0,227.3 L263.0,214.9 L272.6,202.9 L281.8,190.5 L290.8,180.1 L300.0,168.1 L309.5,156.9 L318.7,147.1 L327.7,137.3 L336.9,127.5 L346.2,119.1 L355.7,111.3 L364.3,103.8 L373.8,96.2 L383.1,89.2 L392.3,83.3 L401.6,79.3 L410.8,76.4 L420.0,74.1 L429.4,75.0 L438.6,79.2 L447.6,84.2 L456.8,90.4 L466.3,97.4 L475.5,104.9 L484.5,114.7 L493.7,124.8 L502.9,137.4 L511.9,151.1 L520.8,168.1 L528.7,183.5" fill="none" stroke="#29a660" stroke-width="2" stroke-linejoin="round" stroke-linecap="round"/><circle cx="62.3" cy="485.3" r="3.25" fill="#fff" stroke="#29a660" stroke-width="0.8"/><path d="M59.07,485.65 A3.25,3.25 0 0 1 65.53,485.65 Z" fill="#29a660" stroke="#29a660" stroke-width="0.4"/><circle cx="69.8" cy="480.2" r="3.25" fill="#fff" stroke="#29a660" stroke-width="0.8"/><path d="M66.57,480.55 A3.25,3.25 0 0 1 73.03,480.55 Z" fill="#29a660" stroke="#29a660" stroke-width="0.4"/><circle cx="78.6" cy="474.2" r="3.25" fill="#fff" stroke="#29a660" stroke-width="0.8"/><path d="M75.37,474.55 A3.25,3.25 0 0 1 81.83,474.55 Z" fill="#29a660" stroke="#29a660" stroke-width="0.4"/><circle cx="88.1" cy="460.8" r="3.25" fill="#fff" stroke="#29a660" stroke-width="0.8"/><path d="M84.87,461.15 A3.25,3.25 0 0 1 91.33,461.15 Z" fill="#29a660" stroke="#29a660" stroke-width="0.4"/><circle cx="97.1" cy="447.8" r="3.25" fill="#fff" stroke="#29a660" stroke-width="0.8"/><path d="M93.87,448.15 A3.25,3.25 0 0 1 100.33,448.15 Z" fill="#29a660" stroke="#29a660" stroke-width="0.4"/><circle cx="106.5" cy="434.1" r="3.25" fill="#fff" stroke="#29a660" stroke-width="0.8"/><path d="M103.27,434.45 A3.25,3.25 0 0 1 109.73,434.45 Z" fill="#29a660" stroke="#29a660" stroke-width="0.4"/><circle cx="116.0" cy="421.2" r="3.25" fill="#fff" stroke="#29a660" stroke-width="0.8"/><path d="M112.77,421.55 A3.25,3.25 0 0 1 119.23,421.55 Z" fill="#29a660" stroke="#29a660" stroke-width="0.4"/><circle cx="124.8" cy="406.9" r="3.25" fill="#fff" stroke="#29a660" stroke-width="0.8"/><path d="M121.57,407.25 A3.25,3.25 0 0 1 128.03,407.25 Z" fill="#29a660" stroke="#29a660" stroke-width="0.4"/><circle cx="134.2" cy="394.1" r="3.25" fill="#fff" stroke="#29a660" stroke-width="0.8"/><path d="M130.97,394.45 A3.25,3.25 0 0 1 137.43,394.45 Z" fill="#29a660" stroke="#29a660" stroke-width="0.4"/><circle cx="143.3" cy="380.8" r="3.25" fill="#fff" stroke="#29a660" stroke-width="0.8"/><path d="M140.07,381.15 A3.25,3.25 0 0 1 146.53,381.15 Z" fill="#29a660" stroke="#29a660" stroke-width="0.4"/><circle cx="152.2" cy="367.7" r="3.25" fill="#fff" stroke="#29a660" stroke-width="0.8"/><path d="M148.97,368.05 A3.25,3.25 0 0 1 155.43,368.05 Z" fill="#29a660" stroke="#29a660" stroke-width="0.4"/><circle cx="161.7" cy="354.6" r="3.25" fill="#fff" stroke="#29a660" stroke-width="0.8"/><path d="M158.47,354.95 A3.25,3.25 0 0 1 164.93,354.95 Z" fill="#29a660" stroke="#29a660" stroke-width="0.4"/><circle cx="171.5" cy="341.9" r="3.25" fill="#fff" stroke="#29a660" stroke-width="0.8"/><path d="M168.27,342.25 A3.25,3.25 0 0 1 174.73,342.25 Z" fill="#29a660" stroke="#29a660" stroke-width="0.4"/><circle cx="180.6" cy="328.5" r="3.25" fill="#fff" stroke="#29a660" stroke-width="0.8"/><path d="M177.37,328.85 A3.25,3.25 0 0 1 183.83,328.85 Z" fill="#29a660" stroke="#29a660" stroke-width="0.4"/><circle cx="189.6" cy="315.6" r="3.25" fill="#fff" stroke="#29a660" stroke-width="0.8"/><path d="M186.37,315.95 A3.25,3.25 0 0 1 192.83,315.95 Z" fill="#29a660" stroke="#29a660" stroke-width="0.4"/><circle cx="198.8" cy="302.8" r="3.25" fill="#fff" stroke="#29a660" stroke-width="0.8"/><path d="M195.57,303.15 A3.25,3.25 0 0 1 202.03,303.15 Z" fill="#29a660" stroke="#29a660" stroke-width="0.4"/><circle cx="208.3" cy="289.9" r="3.25" fill="#fff" stroke="#29a660" stroke-width="0.8"/><path d="M205.07,290.25 A3.25,3.25 0 0 1 211.53,290.25 Z" fill="#29a660" stroke="#29a660" stroke-width="0.4"/><circle cx="217.6" cy="277.6" r="3.25" fill="#fff" stroke="#29a660" stroke-width="0.8"/><path d="M214.37,277.95 A3.25,3.25 0 0 1 220.83,277.95 Z" fill="#29a660" stroke="#29a660" stroke-width="0.4"/><circle cx="226.5" cy="265.3" r="3.25" fill="#fff" stroke="#29a660" stroke-width="0.8"/><path d="M223.27,265.65 A3.25,3.25 0 0 1 229.73,265.65 Z" fill="#29a660" stroke="#29a660" stroke-width="0.4"/><circle cx="235.7" cy="251.9" r="3.25" fill="#fff" stroke="#29a660" stroke-width="0.8"/><path d="M232.47,252.25 A3.25,3.25 0 0 1 238.93,252.25 Z" fill="#29a660" stroke="#29a660" stroke-width="0.4"/><circle cx="245.0" cy="239.6" r="3.25" fill="#fff" stroke="#29a660" stroke-width="0.8"/><path d="M241.77,239.95 A3.25,3.25 0 0 1 248.23,239.95 Z" fill="#29a660" stroke="#29a660" stroke-width="0.4"/><circle cx="254.0" cy="227.3" r="3.25" fill="#fff" stroke="#29a660" stroke-width="0.8"/><path d="M250.77,227.65 A3.25,3.25 0 0 1 257.23,227.65 Z" fill="#29a660" stroke="#29a660" stroke-width="0.4"/><circle cx="263.0" cy="214.9" r="3.25" fill="#fff" stroke="#29a660" stroke-width="0.8"/><path d="M259.77,215.25 A3.25,3.25 0 0 1 266.23,215.25 Z" fill="#29a660" stroke="#29a660" stroke-width="0.4"/><circle cx="272.6" cy="202.9" r="3.25" fill="#fff" stroke="#29a660" stroke-width="0.8"/><path d="M269.37,203.25 A3.25,3.25 0 0 1 275.83,203.25 Z" fill="#29a660" stroke="#29a660" stroke-width="0.4"/><circle cx="281.8" cy="190.5" r="3.25" fill="#fff" stroke="#29a660" stroke-width="0.8"/><path d="M278.57,190.85 A3.25,3.25 0 0 1 285.03,190.85 Z" fill="#29a660" stroke="#29a660" stroke-width="0.4"/><circle cx="290.8" cy="180.1" r="3.25" fill="#fff" stroke="#29a660" stroke-width="0.8"/><path d="M287.57,180.45 A3.25,3.25 0 0 1 294.03,180.45 Z" fill="#29a660" stroke="#29a660" stroke-width="0.4"/><circle cx="300.0" cy="168.1" r="3.25" fill="#fff" stroke="#29a660" stroke-width="0.8"/><path d="M296.77,168.45 A3.25,3.25 0 0 1 303.23,168.45 Z" fill="#29a660" stroke="#29a660" stroke-width="0.4"/><circle cx="309.5" cy="156.9" r="3.25" fill="#fff" stroke="#29a660" stroke-width="0.8"/><path d="M306.27,157.25 A3.25,3.25 0 0 1 312.73,157.25 Z" fill="#29a660" stroke="#29a660" stroke-width="0.4"/><circle cx="318.7" cy="147.1" r="3.25" fill="#fff" stroke="#29a660" stroke-width="0.8"/><path d="M315.47,147.45 A3.25,3.25 0 0 1 321.93,147.45 Z" fill="#29a660" stroke="#29a660" stroke-width="0.4"/><circle cx="327.7" cy="137.3" r="3.25" fill="#fff" stroke="#29a660" stroke-width="0.8"/><path d="M324.47,137.65 A3.25,3.25 0 0 1 330.93,137.65 Z" fill="#29a660" stroke="#29a660" stroke-width="0.4"/><circle cx="336.9" cy="127.5" r="3.25" fill="#fff" stroke="#29a660" stroke-width="0.8"/><path d="M333.67,127.85 A3.25,3.25 0 0 1 340.13,127.85 Z" fill="#29a660" stroke="#29a660" stroke-width="0.4"/><circle cx="346.2" cy="119.1" r="3.25" fill="#fff" stroke="#29a660" stroke-width="0.8"/><path d="M342.97,119.45 A3.25,3.25 0 0 1 349.43,119.45 Z" fill="#29a660" stroke="#29a660" stroke-width="0.4"/><circle cx="355.7" cy="111.3" r="3.25" fill="#fff" stroke="#29a660" stroke-width="0.8"/><path d="M352.47,111.65 A3.25,3.25 0 0 1 358.93,111.65 Z" fill="#29a660" stroke="#29a660" stroke-width="0.4"/><circle cx="364.3" cy="103.8" r="3.25" fill="#fff" stroke="#29a660" stroke-width="0.8"/><path d="M361.07,104.15 A3.25,3.25 0 0 1 367.53,104.15 Z" fill="#29a660" stroke="#29a660" stroke-width="0.4"/><circle cx="373.8" cy="96.2" r="3.25" fill="#fff" stroke="#29a660" stroke-width="0.8"/><path d="M370.57,96.55 A3.25,3.25 0 0 1 377.03,96.55 Z" fill="#29a660" stroke="#29a660" stroke-width="0.4"/><circle cx="383.1" cy="89.2" r="3.25" fill="#fff" stroke="#29a660" stroke-width="0.8"/><path d="M379.87,89.55 A3.25,3.25 0 0 1 386.33,89.55 Z" fill="#29a660" stroke="#29a660" stroke-width="0.4"/><circle cx="392.3" cy="83.3" r="3.25" fill="#fff" stroke="#29a660" stroke-width="0.8"/><path d="M389.07,83.65 A3.25,3.25 0 0 1 395.53,83.65 Z" fill="#29a660" stroke="#29a660" stroke-width="0.4"/><circle cx="401.6" cy="79.3" r="3.25" fill="#fff" stroke="#29a660" stroke-width="0.8"/><path d="M398.37,79.65 A3.25,3.25 0 0 1 404.83,79.65 Z" fill="#29a660" stroke="#29a660" stroke-width="0.4"/><circle cx="410.8" cy="76.4" r="3.25" fill="#fff" stroke="#29a660" stroke-width="0.8"/><path d="M407.57,76.75 A3.25,3.25 0 0 1 414.03,76.75 Z" fill="#29a660" stroke="#29a660" stroke-width="0.4"/><circle cx="420.0" cy="74.1" r="3.25" fill="#fff" stroke="#29a660" stroke-width="0.8"/><path d="M416.77,74.45 A3.25,3.25 0 0 1 423.23,74.45 Z" fill="#29a660" stroke="#29a660" stroke-width="0.4"/><circle cx="429.4" cy="75.0" r="3.25" fill="#fff" stroke="#29a660" stroke-width="0.8"/><path d="M426.17,75.35 A3.25,3.25 0 0 1 432.63,75.35 Z" fill="#29a660" stroke="#29a660" stroke-width="0.4"/><circle cx="438.6" cy="79.2" r="3.25" fill="#fff" stroke="#29a660" stroke-width="0.8"/><path d="M435.37,79.55 A3.25,3.25 0 0 1 441.83,79.55 Z" fill="#29a660" stroke="#29a660" stroke-width="0.4"/><circle cx="447.6" cy="84.2" r="3.25" fill="#fff" stroke="#29a660" stroke-width="0.8"/><path d="M444.37,84.55 A3.25,3.25 0 0 1 450.83,84.55 Z" fill="#29a660" stroke="#29a660" stroke-width="0.4"/><circle cx="456.8" cy="90.4" r="3.25" fill="#fff" stroke="#29a660" stroke-width="0.8"/><path d="M453.57,90.75 A3.25,3.25 0 0 1 460.03,90.75 Z" fill="#29a660" stroke="#29a660" stroke-width="0.4"/><circle cx="466.3" cy="97.4" r="3.25" fill="#fff" stroke="#29a660" stroke-width="0.8"/><path d="M463.07,97.75 A3.25,3.25 0 0 1 469.53,97.75 Z" fill="#29a660" stroke="#29a660" stroke-width="0.4"/><circle cx="475.5" cy="104.9" r="3.25" fill="#fff" stroke="#29a660" stroke-width="0.8"/><path d="M472.27,105.25 A3.25,3.25 0 0 1 478.73,105.25 Z" fill="#29a660" stroke="#29a660" stroke-width="0.4"/><circle cx="484.5" cy="114.7" r="3.25" fill="#fff" stroke="#29a660" stroke-width="0.8"/><path d="M481.27,115.05 A3.25,3.25 0 0 1 487.73,115.05 Z" fill="#29a660" stroke="#29a660" stroke-width="0.4"/><circle cx="493.7" cy="124.8" r="3.25" fill="#fff" stroke="#29a660" stroke-width="0.8"/><path d="M490.47,125.15 A3.25,3.25 0 0 1 496.93,125.15 Z" fill="#29a660" stroke="#29a660" stroke-width="0.4"/><circle cx="502.9" cy="137.4" r="3.25" fill="#fff" stroke="#29a660" stroke-width="0.8"/><path d="M499.67,137.75 A3.25,3.25 0 0 1 506.13,137.75 Z" fill="#29a660" stroke="#29a660" stroke-width="0.4"/><circle cx="511.9" cy="151.1" r="3.25" fill="#fff" stroke="#29a660" stroke-width="0.8"/><path d="M508.67,151.45 A3.25,3.25 0 0 1 515.13,151.45 Z" fill="#29a660" stroke="#29a660" stroke-width="0.4"/><circle cx="520.8" cy="168.1" r="3.25" fill="#fff" stroke="#29a660" stroke-width="0.8"/><path d="M517.57,168.45 A3.25,3.25 0 0 1 524.03,168.45 Z" fill="#29a660" stroke="#29a660" stroke-width="0.4"/><circle cx="528.7" cy="183.5" r="3.25" fill="#fff" stroke="#29a660" stroke-width="0.8"/><path d="M525.47,183.85 A3.25,3.25 0 0 1 531.93,183.85 Z" fill="#29a660" stroke="#29a660" stroke-width="0.4"/><path d="M113.64,419.42 L114.31,419.18 L115.03,418.93 L115.74,418.72 L116.45,418.54 L117.18,418.38 L117.91,418.26 L118.64,418.18 L119.40,418.15 L120.14,418.17 L120.87,418.25 L121.59,418.41 L122.30,418.66 L122.96,418.99 L123.56,419.43 L124.09,419.95 L124.55,420.55 M125.17,421.90 L125.37,422.67 L125.50,423.42 L125.57,424.22 L125.58,424.98 L125.55,425.78 L125.48,426.55 L125.37,427.32 L125.23,428.12 L125.07,428.87 L124.89,429.64 L124.68,430.39 M120.24,440.58 L119.88,441.22 L119.53,441.82 L119.15,442.47 L118.78,443.08 L118.41,443.68 L118.03,444.29 L117.64,444.90 L117.24,445.52 L116.83,446.13 L116.45,446.70 L116.03,447.31 L115.63,447.88 L115.20,448.50 L114.79,449.06 L114.37,449.63 M107.75,457.76 L107.22,458.34 L106.73,458.88 L106.20,459.45 L105.70,459.98 L105.20,460.50 L104.66,461.06 L104.16,461.57 L103.61,462.12 L103.10,462.62 L102.55,463.16 L102.03,463.65 L101.48,464.18 L100.92,464.70 M93.86,470.61 L93.31,471.02 L92.72,471.45 L92.08,471.90 L91.49,472.30 L90.91,472.70 L90.29,473.11 L89.67,473.51 L89.05,473.89 L88.40,474.28 L87.80,474.63 L87.12,475.02 L86.49,475.36 M76.88,478.45 L76.16,478.44 L75.45,478.37 L74.75,478.23 L74.05,478.00 L73.41,477.70 L72.80,477.31 L72.26,476.83 L71.81,476.28 L71.43,475.66 L71.14,475.01 L70.92,474.32 L70.76,473.60 L70.67,472.91 L70.62,472.18 L70.62,471.47 M73.30,461.35 L73.60,460.66 L73.90,460.01 L74.22,459.35 L74.55,458.69 L74.89,458.02 L75.24,457.34 L75.58,456.71 L75.96,456.02 L76.32,455.38 L76.69,454.73 L77.05,454.13 L77.44,453.48 L77.85,452.82 L78.23,452.21 M83.80,444.37 L84.24,443.81 L84.73,443.20 L85.18,442.64 L85.68,442.04 L86.15,441.48 L86.65,440.89 L87.13,440.34 L87.60,439.79 L88.13,439.20 L88.61,438.66 L89.14,438.08 L89.63,437.55 L90.12,437.02 L90.66,436.45 M97.61,429.81 L98.17,429.33 L98.77,428.82 L99.37,428.32 L99.98,427.83 L100.58,427.35 L101.18,426.87 L101.78,426.41 L102.42,425.93 L103.06,425.46 L103.65,425.03 L104.29,424.59 L104.96,424.13 M112.17,472.96 L112.89,472.99 L113.59,473.03 L114.32,473.09 L115.02,473.18 L115.72,473.28 L116.42,473.41 L117.10,473.57 L117.78,473.76 L118.44,473.98 L119.10,474.26 L119.73,474.60 L120.31,474.98 L120.85,475.46 L121.30,476.00 L121.63,476.62 L121.83,477.29 L121.89,478.00 L121.82,478.70 L121.64,479.39 L121.38,480.06 L121.06,480.69 L120.68,481.29 L120.27,481.87 L119.84,482.42 M112.52,488.36 L111.86,488.77 L111.25,489.13 L110.59,489.50 L109.95,489.86 L109.30,490.21 L108.64,490.55 L108.01,490.88 L107.32,491.22 L106.67,491.54 L106.00,491.85 L105.33,492.16 L104.65,492.47 L103.96,492.77 M95.12,495.99 L94.43,496.20 L93.69,496.41 L92.99,496.60 L92.26,496.80 L91.52,497.00 L90.78,497.18 L90.05,497.35 L89.32,497.52 L88.60,497.68 L87.83,497.84 L87.11,497.98 L86.36,498.12 L85.61,498.26 M76.36,499.04 L75.64,499.02 L74.91,498.98 L74.17,498.92 L73.44,498.83 L72.71,498.73 L71.98,498.59 L71.26,498.42 L70.55,498.22 L69.86,497.98 L69.17,497.67 L68.54,497.32 L67.94,496.89 L67.40,496.39 M76.47,483.27 L77.12,482.89 L77.77,482.52 L78.48,482.12 L79.13,481.77 L79.83,481.41 L80.51,481.06 L81.19,480.72 L81.89,480.39 L82.60,480.06 L83.31,479.73 M93.41,475.97 L94.10,475.77 L94.84,475.55 L95.54,475.36 L96.27,475.16 L96.97,474.98 L97.70,474.80 L98.43,474.63 L99.16,474.46 L99.89,474.30 L100.61,474.15 L101.33,474.01 L102.04,473.88" fill="none" stroke="#ea1a22" stroke-width="2.1" stroke-linecap="butt" stroke-linejoin="round"/><path d="M88.4,434.8 L111.6,335" stroke="#000" stroke-width="1.4" fill="none"/><path d="M114.6,323.6 L107.9,336.5 L114.9,338.2 Z" fill="#000"/><path d="M61.0,8.9 H683.8 V510.5 H61.0 Z M51,510.5 H71 M51,464.9 H71 M51,419.3 H71 M51,373.7 H71 M51,328.1 H71 M51,282.5 H71 M51,236.9 H71 M51,191.3 H71 M51,145.7 H71 M51,100.1 H71 M51,54.5 H71 M51,8.9 H71 M61.0,501 V520 M174.2,501 V520 M287.3,501 V520 M400.5,501 V520 M513.6,501 V520 M626.8,501 V520 M117.6,510.5 V505.5 M230.7,510.5 V505.5 M343.9,510.5 V505.5 M457.1,510.5 V505.5 M570.2,510.5 V505.5 M683.4,510.5 V505.5" stroke="#000" stroke-width="2" fill="none"/><rect x="83" y="33" width="143" height="132.3" fill="#fff" stroke="#767676" stroke-width="1.3"/><path d="M86,51.2 H145.5" stroke="#3d3d3d" stroke-width="2"/><rect x="112.8" y="48.5" width="5.5" height="5.5" fill="#fff" stroke="#6a6a6a" stroke-width="0.8"/><rect x="112.5" y="48.2" width="6.1" height="3.7" fill="#3d3d3d"/><text x="151.3" y="60.1" font-size="26">0.0 kN</text><path d="M86,83.3 H145.5" stroke="#e8373a" stroke-width="2"/><circle cx="115.5" cy="83.3" r="3.25" fill="#fff" stroke="#f0831f" stroke-width="0.8"/><path d="M112.27,83.65 A3.25,3.25 0 0 1 118.73,83.65 Z" fill="#f0831f" stroke="#f0831f" stroke-width="0.4"/><text x="151.3" y="92.2" font-size="26">0.2 kN</text><path d="M86,115.4 H145.5" stroke="#1b62dc" stroke-width="2"/><path d="M115.5,112.1 L119.5,118.7 L111.5,118.7 Z" fill="#fff" stroke="#1b62dc" stroke-opacity="0.75" stroke-width="0.8" stroke-linejoin="miter"/><path d="M115.5,111.8 L118.7,116.9 L112.3,116.9 Z" fill="#1b62dc"/><text x="151.3" y="124.3" font-size="26">0.4 kN</text><path d="M86,147.2 H145.5" stroke="#29a660" stroke-width="2"/><circle cx="115.5" cy="147.2" r="3.25" fill="#fff" stroke="#29a660" stroke-width="0.8"/><path d="M112.27,147.55 A3.25,3.25 0 0 1 118.73,147.55 Z" fill="#29a660" stroke="#29a660" stroke-width="0.4"/><text x="151.3" y="156.1" font-size="26">0.6 kN</text><text x="44.8" y="516.7" font-size="22" text-anchor="end">0</text><text x="44.8" y="471.1" font-size="22" text-anchor="end">1</text><text x="44.8" y="425.5" font-size="22" text-anchor="end">2</text><text x="44.8" y="379.9" font-size="22" text-anchor="end">3</text><text x="44.8" y="334.3" font-size="22" text-anchor="end">4</text><text x="44.8" y="288.7" font-size="22" text-anchor="end">5</text><text x="44.8" y="243.1" font-size="22" text-anchor="end">6</text><text x="44.8" y="197.5" font-size="22" text-anchor="end">7</text><text x="44.8" y="151.9" font-size="22" text-anchor="end">8</text><text x="44.8" y="106.3" font-size="22" text-anchor="end">9</text><text x="44.8" y="60.7" font-size="22" text-anchor="end">10</text><text x="44.8" y="15.1" font-size="22" text-anchor="end">11</text><text x="61.0" y="542.9" font-size="22.2" text-anchor="middle">0</text><text x="174.2" y="542.9" font-size="22.2" text-anchor="middle">1</text><text x="287.3" y="542.9" font-size="22.2" text-anchor="middle">2</text><text x="400.5" y="542.9" font-size="22.2" text-anchor="middle">3</text><text x="513.6" y="542.9" font-size="22.2" text-anchor="middle">4</text><text x="626.8" y="542.9" font-size="22.2" text-anchor="middle">5</text><text x="320.8" y="570.6" font-size="26.2">Strain/10<tspan font-size="18.6" dy="-11.6">-3</tspan></text><text transform="translate(19.7,320.4) rotate(-90)" font-size="26.2">Stress/MPa</text><text x="65.8" y="314.1" font-size="16.6">Complete action</text><text x="134.7" y="496.3" font-size="16.6">Incomplete action</text></svg></body></html>
